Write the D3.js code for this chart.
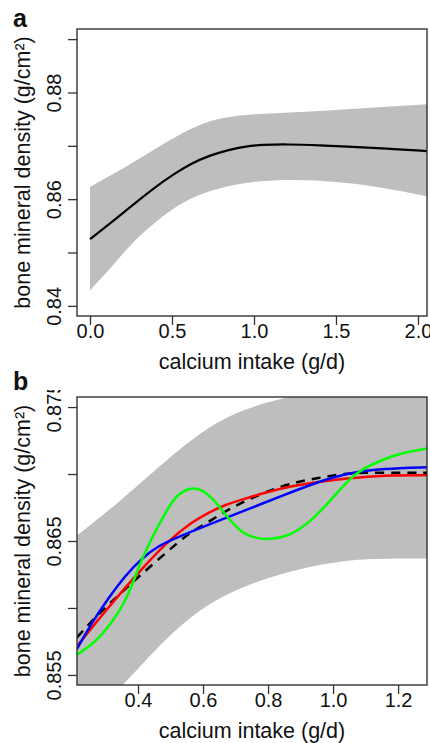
<!DOCTYPE html>
<html>
<head>
<meta charset="utf-8">
<script src="https://cdnjs.cloudflare.com/ajax/libs/d3/7.8.5/d3.min.js"></script>
<style>
  body { margin: 0; background: #fff; }
  svg text { font-family: "Liberation Sans", Arial, Helvetica, sans-serif; fill: #111; }
  .axis path.domain { display: none; }
  .axis .tick line { stroke: #333; stroke-width: 1.3; }
  .axis text { font-size: 20px; }
  .frame { fill: none; stroke: #333; stroke-width: 1.4; }
  .band { fill: #bebebe; stroke: none; }
  .axis-title { font-size: 21.5px; }
  .panel-label { font-size: 25px; font-weight: bold; }
</style>
</head>
<body>
<div id="chart"></div>
<script>
// Panel a: smooth fit with confidence band
var xFitA = [0, 0.13, 0.26, 0.39, 0.52, 0.62, 0.72, 0.85, 0.95, 1.05, 1.2, 1.4, 1.6, 1.8, 2.06];
var fitA = [0.8525, 0.8556, 0.8589, 0.8621, 0.8649, 0.8667, 0.8681, 0.8693, 0.8699, 0.8702, 0.8703, 0.8701, 0.8698, 0.8695, 0.8690];

var xUpperA = [0, 0.13, 0.26, 0.4, 0.54, 0.67, 0.8, 1.0, 1.25, 1.5, 1.75, 2.06];
var upperA = [0.8623, 0.8645, 0.8668, 0.8695, 0.8720, 0.8740, 0.8753, 0.8760, 0.8763, 0.8767, 0.8772, 0.8778];

var xLowerA = [0, 0.13, 0.25, 0.38, 0.5, 0.62, 0.75, 1.0, 1.25, 1.5, 1.75, 2.0, 2.06];
var lowerA = [0.8429, 0.8472, 0.8517, 0.8553, 0.8583, 0.8604, 0.8619, 0.8634, 0.8637, 0.8633, 0.8624, 0.8610, 0.8605];

var xTicksA = [0, 0.5, 1, 1.5, 2];
var yTicksA = [0.84, 0.85, 0.86, 0.87, 0.88, 0.89];
var yLabelsA = [0.84, 0.86, 0.88];

// Panel b: zoomed view, band plus four fitted curves
var xBandB = [0.212, 0.30, 0.354, 0.412, 0.514, 0.615, 0.72, 0.846, 0.951, 1.052, 1.154, 1.289];
var upperB = [0.8654, 0.8671, 0.8682, 0.8694, 0.8716, 0.8735, 0.8748, 0.8757, 0.8761, 0.8763, 0.8765, 0.8768];
var lowerB = [0.8503, 0.8531, 0.85425, 0.8558, 0.8584, 0.8603, 0.8616, 0.8626, 0.8632, 0.8636, 0.8637, 0.8637];

var xGreen = [0.211, 0.268, 0.319, 0.360, 0.391, 0.411, 0.442, 0.473, 0.514, 0.560, 0.596, 0.637, 0.677, 0.720, 0.760, 0.806, 0.868, 0.929, 0.991, 1.052, 1.092, 1.154, 1.215, 1.289];
var green = [0.8565, 0.8574, 0.8589, 0.8604, 0.8623, 0.8636, 0.8652, 0.8666, 0.8684, 0.8690, 0.8689, 0.8680, 0.8667, 0.8656, 0.8652, 0.8651, 0.8654, 0.8664, 0.8680, 0.8697, 0.8704, 0.8711, 0.8716, 0.8719];

var xBlue = [0.211, 0.258, 0.308, 0.360, 0.411, 0.460, 0.514, 0.615, 0.720, 0.846, 0.951, 1.052, 1.154, 1.289];
var blue = [0.8569, 0.8589, 0.8607, 0.8624, 0.8637, 0.8646, 0.8652, 0.8662, 0.8672, 0.8684, 0.8694, 0.8701, 0.8704, 0.8705];

var xRed = [0.211, 0.260, 0.308, 0.360, 0.411, 0.492, 0.565, 0.615, 0.668, 0.720, 0.846, 0.951, 1.052, 1.154, 1.289];
var red = [0.8571, 0.8586, 0.8600, 0.8615, 0.8629, 0.8650, 0.8664, 0.8671, 0.8677, 0.8681, 0.8690, 0.8694, 0.8697, 0.8699, 0.8699];

var xDashed = [0.212, 0.268, 0.329, 0.391, 0.452, 0.523, 0.565, 0.615, 0.668, 0.720, 0.846, 0.951, 1.052, 1.154, 1.289];
var dashed = [0.8578, 0.8593, 0.8607, 0.8621, 0.8634, 0.8649, 0.8657, 0.8664, 0.8672, 0.8679, 0.8692, 0.8697, 0.8701, 0.8701, 0.8701];

var xTicksB = [0.4, 0.6, 0.8, 1.0, 1.2];
var yTicksB = [0.855, 0.86, 0.865, 0.87, 0.875];
var yLabelsB = [0.855, 0.865, 0.875];

var zip = (xs, ys) => xs.map((x, i) => [x, ys[i]]);
var fmt = d3.format(".1f");

var width = 430;
var height = 743;

var svg = d3.select("#chart")
  .append("svg")
  .attr("width", width)
  .attr("height", height);

var defs = svg.append("defs");

// Draw one R-style panel.
var renderPanel = function(config) {
  var m = config.box;
  var w = m.right - m.left;
  var h = m.bottom - m.top;

  var xScale = d3.scaleLinear().domain(config.xDomain).range([0, w]);
  var yScale = d3.scaleLinear().domain(config.yDomain).range([h, 0]);

  defs.append("clipPath")
    .attr("id", "clip-" + config.id)
    .append("rect")
    .attr("width", w)
    .attr("height", h);

  var panel = svg.append("g")
    .attr("transform", `translate(${m.left},${m.top})`);

  var plot = panel.append("g")
    .attr("clip-path", `url(#clip-${config.id})`);

  // band
  var area = d3.area()
    .x(d => xScale(d[0]))
    .y0(d => yScale(d[1]))
    .y1(d => yScale(d[2]))
    .curve(d3.curveBasis);

  plot.append("path")
    .datum(config.band)
    .attr("class", "band")
    .attr("d", area);

  var line = d3.line()
    .x(d => xScale(d[0]))
    .y(d => yScale(d[1]))
    .curve(d3.curveBasis);

  config.lines.forEach(function(l) {
    plot.append("path")
      .datum(l.data)
      .attr("fill", "none")
      .attr("stroke", l.color)
      .attr("stroke-width", l.width)
      .attr("stroke-dasharray", l.dash || null)
      .attr("d", line);
  });

  // axes
  var xAxis = d3.axisBottom(xScale)
    .tickValues(config.xTicks)
    .tickSize(9)
    .tickFormat(d => fmt(d));

  panel.append("g")
    .attr("class", "x axis")
    .attr("transform", `translate(0,${h})`)
    .call(xAxis)
    .selectAll("text")
    .attr("y", 8);

  var yWrap = panel.append("g");
  if (config.labelClip) {
    yWrap.attr("clip-path", `url(#${config.labelClip})`);
  }

  var yAxis = d3.axisLeft(yScale)
    .tickValues(config.yTicks)
    .tickSize(9)
    .tickFormat(d => config.yLabels.some(v => Math.abs(v - d) < 1e-9) ? String(+d.toFixed(3)) : "");

  yWrap.append("g")
    .attr("class", "y axis")
    .call(yAxis)
    .selectAll("text")
    .attr("x", 0)
    .attr("dy", 0)
    .attr("text-anchor", "middle")
    .attr("transform", "translate(-16,0) rotate(-90)");

  panel.append("rect")
    .attr("class", "frame")
    .attr("width", w)
    .attr("height", h);

  // axis titles
  panel.append("text")
    .attr("class", "axis-title")
    .attr("x", w / 2)
    .attr("y", h + 53)
    .attr("text-anchor", "middle")
    .text("calcium intake (g/d)");

  panel.append("text")
    .attr("class", "axis-title")
    .attr("text-anchor", "middle")
    .attr("transform", `translate(${30 - m.left},${h / 2}) rotate(-90)`)
    .text("bone mineral density (g/cm²)");

  svg.append("text")
    .attr("class", "panel-label")
    .attr("x", 13)
    .attr("y", config.labelY)
    .text(config.id);
};

// clip that trims the top tick label of panel b
defs.append("clipPath")
  .attr("id", "clip-b-labels")
  .append("rect")
  .attr("x", -100)
  .attr("y", 390 - 397)
  .attr("width", 500)
  .attr("height", 400);

renderPanel({
  id: "a",
  box: { left: 77, top: 29, right: 427, bottom: 316 },
  xDomain: [-0.0793, 2.055],
  yDomain: [0.8381, 0.8919],
  band: xUpperA.map((x, i) => [x, d3.scaleLinear().domain(xLowerA).range(lowerA)(x), upperA[i]]),
  lines: [
    { data: zip(xFitA, fitA), color: "#000", width: 2.2 }
  ],
  xTicks: xTicksA,
  yTicks: yTicksA,
  yLabels: yLabelsA,
  labelY: 27
});

renderPanel({
  id: "b",
  box: { left: 77, top: 397, right: 427, bottom: 685 },
  xDomain: [0.2123, 1.289],
  yDomain: [0.85425, 0.87575],
  band: xBandB.map((x, i) => [x, lowerB[i], upperB[i]]),
  lines: [
    { data: zip(xDashed, dashed), color: "#000", width: 2.5, dash: "9,7" },
    { data: zip(xRed, red), color: "#ff0000", width: 2.5 },
    { data: zip(xBlue, blue), color: "#0000ff", width: 2.5 },
    { data: zip(xGreen, green), color: "#00ff00", width: 2.5 }
  ],
  xTicks: xTicksB,
  yTicks: yTicksB,
  yLabels: yLabelsB,
  labelClip: "clip-b-labels",
  labelY: 390
});
</script>
</body>
</html>
